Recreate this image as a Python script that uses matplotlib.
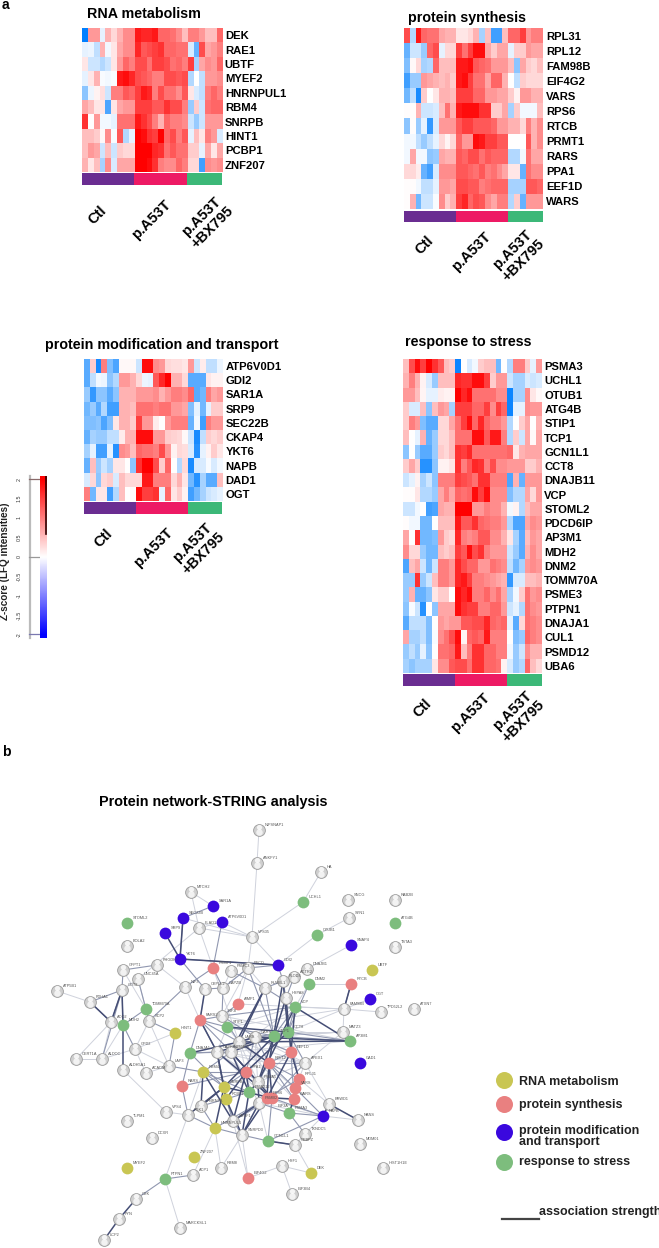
import numpy as np
import matplotlib
matplotlib.use('Agg')
import matplotlib.pyplot as plt
from matplotlib.colors import LinearSegmentedColormap
from matplotlib.collections import LineCollection

plt.rcParams['font.family'] = ['Liberation Sans', 'DejaVu Sans']

group_names = ['Ctl', 'p.A53T', 'p.A53T\n+BX795']
group_sizes = [9, 9, 6]
group_colors = ['#6a2d91', '#ed1a64', '#3cb878']

rna_genes = ['DEK', 'RAE1', 'UBTF', 'MYEF2', 'HNRNPUL1', 'RBM4', 'SNRPB', 'HINT1', 'PCBP1', 'ZNF207']
rna_z = [
    [-2, .8, .8, -.2, .6, .3, .6, .9, .9,  1.8, 1.7, 1.7, 1.8, 1.2, 1.2, 1.1, .9, .5,  1.0, 1.0, .8, .5, .5, 1.2],
    [-.2, -.15, -.5, .6, -.1, .2, .7, .9, .9,  1.7, 1.3, 1.4, 1.5, 1.6, 1.2, 1.2, 1.1, 1.1,  -.3, -1.2, 1.4, .7, .8, 1.0],
    [.2, -.4, -.4, -.6, -.4, .2, .8, 1.2, 1.0,  1.4, 1.4, 1.1, 1.5, 1.5, 1.4, 1.1, 1.2, 1.0,  1.5, -.7, .7, .9, .8, 1.2],
    [-.2, .2, .6, -.05, -.1, -.05, 1.8, 1.9, 1.7,  1.4, 1.3, 1.2, 1.0, 1.0, 1.4, 1.4, 1.3, 1.4,  -.6, 0, -.5, .8, .8, .9],
    [-.9, -.15, .1, .25, -.4, 1.0, 1.0, 1.3, 1.2,  1.5, 1.8, 1.7, 1.0, 1.4, 1.1, 1.1, .9, 1.3,  .2, -.3, -.5, 1.0, 1.2, 1.0],
    [.7, .5, .2, .2, -1.4, .2, .7, .8, .8,  1.5, 1.5, 1.5, 1.3, 1.3, 1.6, 1.4, 1.4, 1.0,  -.8, .4, -.4, 1.1, 1.2, 1.2],
    [1.6, 0, .8, -.1, -.1, -.2, 1.1, 1.1, 1.1,  1.8, 1.6, 1.4, 1.0, .6, 1.2, 1.0, 1.0, .9,  -.4, -.8, -.4, .8, .8, .8],
    [.5, .5, .4, .05, .9, -.05, 1.3, -.6, -.2,  2, 1.9, 1.6, 1.5, 2, 1.2, 1.4, 1.0, 1.3,  -.2, .5, .2, 1.0, .8, -.3],
    [.5, .8, .7, -.4, .5, -.4, .4, .3, .3,  2, 2, 2, 1.7, 1.6, 1.1, 1.3, 1.1, 1.1,  .4, .4, -.2, .7, .2, .7],
    [.6, .2, .5, -.7, .9, -.3, .7, .7, .7,  2, 2, 1.9, 1.6, 1.0, .9, .9, 1.2, 1.0,  .3, .3, -1.5, .9, .8, .9],
]

synthesis_genes = ['RPL31', 'RPL12', 'FAM98B', 'EIF4G2', 'VARS', 'RPS6', 'RTCB', 'PRMT1', 'RARS', 'PPA1', 'EEF1D', 'WARS']
synthesis_z = [
    [1.4, -.6, 1.8, 1.2, 1.1, 1.1, .7, .6, .6,  .2, .2, .3, .6, -.7, .5, -1.5, -1.5, .5,  1.2, 1.2, 1.5, .8, 1.0, 1.0],
    [-1.2, -.4, -.4, -.8, 1.2, 1.4, -.2, .3, .3,  1.5, 1.1, 1.5, 1.9, 1.9, .7, .4, .7, .7,  -.2, .4, .4, .8, .7, .7],
    [-1, .05, .3, -.7, -.6, 1.2, .5, .5, .5,  1.8, 1.8, 1.9, 1.3, 1.2, 1.1, .8, .8, .8,  .5, -.9, .7, .4, .3, .5],
    [-1.5, -.8, -.8, .8, .7, .6, .5, .6, .4,  1.8, 1.9, 1.5, 1.1, 1.1, .7, 1.2, 1.2, .6,  0, -.5, .4, .3, .3, .3],
    [-1.1, -.5, -1.8, .4, 0, .2, .6, .6, .5,  1.5, 1.5, 1.5, 1.2, 1.2, .8, .8, .7, .7,  .4, .1, .8, .8, .6, .6],
    [.02, .02, .6, -.4, -.4, -.3, .5, 1.1, .6,  1.8, 1.9, 1.9, 1.9, 1.6, 1.6, .4, .4, .7,  -.7, .4, -.1, -.1, -.1, .5],
    [-.9, .02, -.8, -.2, -1.6, -.3, .8, .8, .8,  1.3, 1.5, 1.5, 1.3, 1.3, 1.3, 1.2, .8, .8,  .6, .6, .3, 1.0, .6, .9],
    [-.1, -.1, -.5, -.8, -.5, -.2, .3, .08, .3,  1.2, .8, .8, 1.9, 1.8, 1.5, 1.5, 1.3, 1.3,  0, 0, 0, 1.3, .6, .9],
    [-.1, .7, -.1, -.1, -.9, -.8, .7, .6, .6,  1.3, 1.2, 1.4, 1.4, 1.1, 1.3, 1.2, 1.2, 1.2,  -.6, -.6, -.1, 1.1, .7, .7],
    [.3, .3, .15, -1.2, -1.5, -.3, .9, .9, .9,  1.3, 1.3, 1.2, 1.1, 1.3, 1.0, 1.1, .9, .7,  .2, .2, -1.2, 1.1, .9, .9],
    [.02, .02, -.1, -.5, -.5, -.2, .8, .8, .7,  1.4, 1.4, 1.3, 1.3, 1.0, 1.1, 1.2, 1.2, 1.2,  -.7, -.7, -.7, 1.3, 1.3, 1.2],
    [.02, .6, -1.1, -.4, -.4, -.05, .9, .4, .6,  1.5, 1.7, 1.2, 1.4, 1.3, .9, .7, 1.0, 1.0,  -.6, .4, -1.2, .8, .8, .8],
]

modification_genes = ['ATP6V0D1', 'GDI2', 'SAR1A', 'SRP9', 'SEC22B', 'CKAP4', 'YKT6', 'NAPB', 'DAD1', 'OGT']
modification_z = [
    [-1.3, .4, -1.8, 1.0, -1.0, -1.4, .05, .05, .05,  -.4, 1.9, 1.9, .9, .8, .3, .25, .25, .2,  .8, -.4, .15, -.5, -.5, -.15],
    [-1.3, -.5, -.1, -.15, -.9, -.6, .8, .8, .6,  .3, -.15, -.2, 1.3, 1.7, 2, .6, .6, .3,  -1.3, -1.3, -1.3, .2, .1, .1],
    [-.8, -1.6, -.9, -.9, -1.3, -.9, .6, .6, .6,  .8, .8, .8, .9, .6, .8, 1.0, 1.0, .9,  1.2, -1.3, -1.1, 1.0, .7, .8],
    [-1.1, -.8, -1.3, -.6, -1.5, -1.5, .6, .6, .5,  1.1, 1.1, 1.1, 1.0, 1.1, 1.1, .8, .8, .7,  -1.0, -.2, -1.1, -.2, .4, .4],
    [-1, -1, -.9, -1.4, -1, .2, .6, .6, .4,  1.5, .8, .8, .15, 0, .8, 1.0, 1.0, 1.0,  -1.2, -.1, -1.5, 1.0, .8, .8],
    [-1.2, -.7, -.8, -.8, -.5, -.5, .15, .6, .6,  1.9, 1.9, 1.9, .8, .8, .4, .35, .3, .05,  -.4, -1.8, -.5, .4, .3, .4],
    [-.7, -.2, -1.5, -1.5, -.2, -1.7, .9, .8, .5,  1.2, 1.1, 1.1, 1.0, 1.4, .8, .1, .3, .25,  -.3, -1.7, -.2, .1, .4, .2],
    [-1.2, .5, -.8, -.4, -.7, .2, .2, 0, -.9,  1.6, 2, 2, 1.4, .4, 1.2, 0, -.6, .3,  -1.8, -.3, -.3, -.05, -.3, -.1],
    [-.3, .3, -.9, .3, .4, -.3, .5, .3, .3,  .3, 1.8, 1.8, 1, 1, 1, .3, .6, .2,  -1.1, -1.7, -.7, -1.3, -1.3, .5],
    [1.0, -1.1, .2, .2, -1.5, -.6, .5, 0, .02,  1.9, 1.5, 1.5, 1.6, -.2, 1.2, .2, .4, .1,  -1.5, -1.1, -.7, -.4, -.3, -.2],
]

stress_genes = ['PSMA3', 'UCHL1', 'OTUB1', 'ATG4B', 'STIP1', 'TCP1', 'GCN1L1', 'CCT8', 'DNAJB11', 'VCP', 'STOML2',
                'PDCD6IP', 'AP3M1', 'MDH2', 'DNM2', 'TOMM70A', 'PSME3', 'PTPN1', 'DNAJA1', 'CUL1', 'PSMD12', 'UBA6']
stress_z = [
    [.5, 1.4, 1.9, 1.5, 2, 1.6, 1.3, .5, .4,  -1.9, 0, -.3, -.1, .4, .5, .5, -1.1, 0,  -.6, 1, 1, .4, -.2, .8],
    [.6, 1, .6, .1, -.3, -.8, .5, .5, .5,  1.7, 1.6, 1.6, 1.9, 1.9, 1.5, .4, .8, .8,  -.4, -.7, -.7, -.3, -.4, -.3],
    [.8, .8, .5, .08, -.2, -.2, .15, .1, .1,  2, 1.7, 1.9, 1.1, 1.1, 1.1, 1.1, .9, .9,  -1.9, -.7, -.7, .9, .2, .05],
    [.4, -.3, -.3, .5, -.9, .5, .8, .7, -.7,  1.5, 1.5, 1.5, 1.2, 1.2, 1.5, .9, 1.5, 1.2,  -1.9, -.2, -.2, .9, .8, .8],
    [.4, 1, .8, -1, -1.3, -1.3, .3, .3, .7,  1.1, 1.5, 1.9, 1.2, 1.7, 1.2, 1.0, 1.0, .8,  -.6, 0, .4, .7, 0, .6],
    [.5, 0, -.2, .6, -1.2, -.8, .3, .3, .5,  1.1, 1.1, 1.1, 1.9, 1.9, 1.3, 1.8, 1.8, 1.0,  -.6, .4, -.4, .7, .05, .7],
    [-.9, 0, -.8, -1.3, -1.3, -.8, .4, .3, .5,  1.6, 1.5, 1.7, 1.1, 1.1, 1.1, 1.1, 1.1, 1.1,  1.2, .2, .6, .7, .7, .7],
    [.4, .7, .4, -1.7, -1.7, -.9, .1, .1, .2,  1.6, 1.0, 1.3, 1.7, 1.6, 1.0, 1.4, .9, .9,  .8, .8, .8, .4, .4, .6],
    [-.4, -.2, .1, -.7, -.4, -.9, 1.0, 1.0, 1.0,  1.5, 1.4, 1.3, 1.1, 1.6, 1.6, 1.0, 1.0, 1.0,  -1.4, .6, -1.2, .8, .8, .8],
    [.02, .02, .2, -.6, -.6, -.8, .7, 1.0, .7,  1.2, 1.1, 1.2, 1.9, 1.5, 1.9, .9, .9, .9,  -1.0, -.6, -.6, .7, .3, .8],
    [-.4, -.4, -.1, 0, -1.5, -1.4, .7, .6, .6,  2, 2, 2, .8, .8, 1.0, .9, .9, .6,  -.1, .1, -.6, .5, .7, .7],
    [.02, -.1, -.1, -1.1, -1.1, 0, .5, .5, .5,  1.8, 1.3, 1.3, 1.6, 1.2, 1.1, 1.0, 1.0, .8,  -.6, -1.4, -1.4, .7, .9, .8],
    [.7, 0, 1.6, -1.1, -1.1, -1.0, .8, .4, .3,  1.7, 1.0, .9, 1.0, 1.3, 1.3, .9, .9, .6,  .2, -.7, -1.3, .5, .8, .7],
    [.9, .3, .3, -.8, -1.1, -1.1, .5, .4, .5,  1.5, 1.3, 1.9, 1.4, 1.6, 1.0, .8, .8, .8,  -.4, -.8, -1.3, .6, .9, .7],
    [-1.4, .5, .7, -.4, -1.1, -.4, 1.0, 1.0, .8,  1.7, 1.4, 1.2, 1.2, .8, .8, 1.1, 1.0, .9,  -.5, -1.1, -.7, .8, .9, .8],
    [-.8, -.8, 1.6, -.8, -.4, .5, 1.0, 1.0, .8,  1.7, 1.8, 1.5, 1.0, 1.0, .9, .8, .7, .6,  -1.6, -.3, -.3, .5, .5, .6],
    [-.8, .6, -1.2, -1.2, -.9, .2, .4, .4, 0,  1.9, 1.7, 1.9, 1.0, 1.0, 1.2, .9, 1.1, .7,  -.7, -.1, .4, 1.1, .8, .9],
    [-.9, -.05, -.4, -1.7, 0, -.9, .7, .7, .7,  1.9, 1.6, 1.5, 1.5, 1.0, 1.0, 1.2, 1.2, .8,  -.4, -.2, -.6, 1.1, .9, .8],
    [-1.3, -.5, -.5, -.5, -1.0, 0, .8, .7, .8,  .8, 1.3, 1.3, 1.4, 1.4, 1.7, 1.2, 1.1, 1.2,  -.2, -1.3, .3, 1.1, 1.0, .9],
    [.7, -.7, -.7, -.5, -1.0, -.05, .9, 1.1, 1.4,  1.9, .1, 1.2, 1.3, 1.2, 1.8, 1.0, 1.0, 1.0,  0, -1.0, -.8, 1.2, 1.0, .9],
    [-.8, -.5, -.8, -.2, -.9, 0, 1.1, 1.1, 1.2,  1.8, .5, 1.0, 1.6, 1.6, 1.2, 1.2, 1.0, 1.0,  -.1, -.8, -.4, .9, .6, .6],
    [-.7, -.9, -.7, -.7, -.7, .2, .9, .9, 1.3,  1.4, 1.4, 1.1, 1.6, 1.6, 1.2, 1.2, 1.1, .1,  -.3, -.8, -.6, 1.2, .5, .3],
]

key_ticks = [2, 1.5, 1, 0.5, 0, -0.5, -1, -1.5, -2]

# network, pixel layout of the STRING export
node_x = [259, 257, 321, 348, 349, 395, 395, 191, 199, 127, 157, 123, 138, 57, 90, 122, 185, 205, 223, 231, 248, 252,
          307, 294, 283, 265, 286, 222, 344, 381, 414, 343, 111, 149, 135, 76, 102, 123, 146, 169, 217, 231, 255, 239,
          258, 259, 201, 188, 166, 127, 152, 233, 242, 221, 193, 136, 119, 180, 104, 305, 329, 358, 360, 383, 305,
          295, 282, 292,
          372, 127, 215, 194, 175, 203, 224, 226, 311,
          213, 238, 200, 351, 248, 182, 246, 269, 267, 291, 299, 295, 294, 272,
          213, 183, 222, 165, 180, 278, 351, 370, 360, 323,
          127, 303, 317, 395, 309, 295, 146, 123, 350, 288, 274, 227, 190, 249, 289, 268, 165]
node_y = [830, 863, 872, 900, 918, 900, 947, 892, 928, 946, 965, 970, 979, 991, 1002, 990, 987, 989, 988, 971, 968, 937,
          969, 977, 981, 988, 998, 1016, 1009, 1012, 1009, 1032, 1022, 1021, 1049, 1059, 1059, 1070, 1073, 1066, 1052, 1052, 1037, 1042,
          1082, 1103, 1106, 1115, 1112, 1121, 1138, 1121, 1135, 1168, 1175, 1199, 1219, 1228, 1240, 1063, 1104, 1120, 1144, 1168, 1134,
          1145, 1166, 1194,
          970, 1168, 1128, 1157, 1033, 1072, 1087, 1099, 1173,
          968, 1004, 1020, 984, 1178, 1086, 1072, 1063, 1098, 1052, 1079, 1088, 1099, 1098,
          906, 918, 922, 933, 959, 965, 945, 999, 1063, 1116,
          923, 902, 935, 923, 984, 1007, 1009, 1025, 1041, 1032, 1036, 1027, 1053, 1092, 1113, 1141, 1179]
node_names = ['NIPSNAP1', 'ANKFY1', 'HA', 'SNCG', 'SYN1', 'RAB2B', 'TSTA3', 'MTCH2', 'FLAD1', 'BOLA2', 'PHGDH', 'GFPT1', 'UNC45A', 'ATP5B1', 'PDHA1', 'GOT2', 'NIF3', 'CKPLL2', 'CAPZB', 'PSMC3', 'PSCD', 'VPS35',
              'DNAJB1', 'ACTR2', 'PLOD3', 'RUVBL1', 'HSPA8', 'EIF3I', 'FAM98B', 'TPD52L2', 'ATXN7', 'MATZ3', 'ACO2', 'SCP2', 'GPD2', 'CERT1A', 'ALDOC', 'ALDH5A1', 'ACADM', 'LAP3', 'CAPRIN', 'PSMC5', 'GARS', 'LARS',
              'PSMA5', 'PSMB2', 'HNRNPA', 'PGK1', 'VPS4', 'TLPM1', 'DCXR', 'SRSF1', 'SNRPD3', 'RBM8', 'ACP1', 'CSK', 'FYN', 'MARCKSL1', 'LCP2', 'APEX1', 'BRWD1', 'NANS', 'MDM01', 'HIST1H1E', 'TXNDC5',
              'CEBPZ', 'HSF1', 'EIF3B4',
              'UBTF', 'MYEF2', 'HNRNPUL1', 'ZNF207', 'HINT1', 'RBM4', 'SNRPB', 'PCBP1', 'DEK',
              'PRMT1', 'AIMP1', 'PARS2', 'RTCB', 'EIF4G2', 'RARS', 'PPA1', 'RPL12', 'RPS6', 'EEF1D', 'RPL31', 'VARS', 'WARS', 'EIF3A',
              'SAR1A', 'SEC22B', 'ATP6V0D1', 'SRP9', 'YKT6', 'GDI2', 'SNAP4', 'OGT', 'GAD1', 'NAPB',
              'STOML2', 'UCHL1', 'OTUB1', 'ATG4B', 'DNM2', 'VCP', 'TOMM70A', 'MDH2', 'AP3M1', 'CCT8', 'TCP1', 'STIP1', 'DNAJA1', 'PSMD12', 'PSMA3', 'GCN1L1', 'PTPN1']
# 0 grey, 1 RNA, 2 synthesis, 3 modification, 4 stress
node_kind = [0] * 68 + [1] * 9 + [2] * 14 + [3] * 10 + [4] * 17

edges_weak = [('NIPSNAP1', 'ANKFY1'), ('ANKFY1', 'VPS35'), ('HA', 'UCHL1'), ('UCHL1', 'VPS35'), ('SYN1', 'OTUB1'), ('OTUB1', 'GDI2'),
              ('SNAP4', 'DNAJB1'), ('DNM2', 'RTCB'), ('OGT', 'FAM98B'), ('FAM98B', 'TPD52L2'), ('MTCH2', 'SAR1A'), ('FLAD1', 'MTCH2'),
              ('FLAD1', 'VPS35'), ('SEC22B', 'VPS35'), ('ATP6V0D1', 'VPS35'), ('ATP6V0D1', 'FLAD1'), ('FLAD1', 'PRMT1'), ('ATP5B1', 'PDHA1'),
              ('GFPT1', 'GOT2'), ('UNC45A', 'GOT2'), ('PHGDH', 'NIF3'), ('FLAD1', 'UNC45A'), ('GFPT1', 'TOMM70A'), ('UNC45A', 'TOMM70A'),
              ('VPS35', 'PSCD'), ('VPS35', 'GDI2'), ('PSCD', 'CAPZB'), ('PSCD', 'RUVBL1'), ('FAM98B', 'VCP'), ('FAM98B', 'CCT8'), ('FAM98B', 'MATZ3'),
              ('MATZ3', 'TCP1'), ('MATZ3', 'APEX1'), ('MATZ3', 'CCT8'), ('DNM2', 'VCP'), ('APEX1', 'BRWD1'), ('VCP', 'STIP1'), ('BRWD1', 'NANS'),
              ('NAPB', 'NANS'), ('NAPB', 'TXNDC5'), ('TXNDC5', 'CEBPZ'), ('CEBPZ', 'DEK'), ('HSF1', 'DEK'), ('HSF1', 'EIF3B4'), ('HSF1', 'EIF4G2'),
              ('ALDH5A1', 'VPS4'), ('VPS4', 'PGK1'), ('PGK1', 'PTPN1'), ('PTPN1', 'MARCKSL1'), ('SNRPD3', 'RBM8'), ('HNRNPUL1', 'RBM8'),
              ('SNRPD3', 'EIF4G2'), ('HNRNPUL1', 'ACP1'), ('ACO2', 'ALDOC'), ('MDH2', 'ALDOC'), ('ACO2', 'CERT1A'), ('CERT1A', 'ALDOC'),
              ('ALDOC', 'GPD2'), ('GPD2', 'SCP2'), ('GPD2', 'LAP3'), ('GPD2', 'ACADM'), ('ACADM', 'LAP3'), ('LAP3', 'SCP2'), ('HINT1', 'GPD2'),
              ('CAPRIN', 'APEX1'), ('PSMC5', 'VCP'), ('GARS', 'MATZ3'), ('LARS', 'PRMT1'), ('EIF3I', 'PSCD'), ('AIMP1', 'PSCD'), ('CKPLL2', 'PARS2'),
              ('NIF3', 'PARS2'), ('PSMC3', 'CAPZB'), ('EEF1D', 'PSMA5'), ('APEX1', 'PSMA5'), ('PSMB2', 'GCN1L1'), ('SRSF1', 'EIF4G2'), ('RBM4', 'PGK1'),
              ('PSMC5', 'PSMA5'), ('GARS', 'EEF1D'), ('LARS', 'PPA1'), ('CAPRIN', 'PPA1'), ('RPS6', 'NAPB'), ('PSMB2', 'NAPB'), ('PSMD12', 'NAPB'),
              ('RPL31', 'APEX1'), ('EEF1D', 'CCT8'), ('TCP1', 'PSMC5'), ('STIP1', 'LARS'), ('STIP1', 'CAPRIN'),
              ('MATZ3', 'GARS'), ('AP3M1', 'PSMC5'), ('FAM98B', 'STIP1'), ('FAM98B', 'AIMP1'), ('AP3M1', 'EIF3I'), ('BRWD1', 'RPL31'), ('APEX1', 'LARS'),
              ('APEX1', 'GARS'), ('PSMA5', 'LARS'), ('PSMA5', 'CAPRIN'), ('PSMB2', 'PSMC5'), ('PSMB2', 'GARS'), ('RPS6', 'CAPRIN'), ('RPS6', 'GARS'),
              ('RPL12', 'CAPRIN'), ('VARS', 'LARS'), ('WARS', 'LARS')]
edges_mid = [('PHGDH', 'GFPT1'), ('SEC22B', 'SAR1A'), ('PDHA1', 'GOT2'), ('GFPT1', 'GOT2'), ('PDHA1', 'ACO2'), ('GOT2', 'ACO2'), ('GOT2', 'ALDOC'),
             ('GOT2', 'MDH2'), ('UNC45A', 'SCP2'), ('TOMM70A', 'SCP2'), ('NIF3', 'SCP2'), ('SCP2', 'HINT1'), ('ATP6V0D1', 'PRMT1'), ('YKT6', 'GDI2'),
             ('YKT6', 'CKPLL2'), ('SEC22B', 'YKT6'), ('NIF3', 'PRMT1'), ('PRMT1', 'CAPZB'), ('CKPLL2', 'CAPZB'), ('CAPZB', 'PSCD'), ('CAPZB', 'EIF3I'),
             ('PSMC3', 'RUVBL1'), ('PSCD', 'GDI2'), ('GDI2', 'PLOD3'), ('RUVBL1', 'PLOD3'), ('PLOD3', 'HSPA8'), ('ACTR2', 'HSPA8'), ('HSPA8', 'VCP'),
             ('VCP', 'CCT8'), ('VCP', 'TCP1'), ('VCP', 'EIF3I'), ('CCT8', 'TCP1'), ('CCT8', 'AP3M1'), ('TCP1', 'AP3M1'), ('TCP1', 'STIP1'), ('STIP1', 'EIF3I'),
             ('STIP1', 'PARS2'), ('PARS2', 'EIF3I'), ('AIMP1', 'EIF3I'), ('PARS2', 'CAPRIN'), ('PARS2', 'DNAJA1'), ('CAPRIN', 'PSMC5'), ('PSMC5', 'LARS'),
             ('LARS', 'GARS'), ('GARS', 'CCT8'), ('GARS', 'EEF1D'), ('GARS', 'PPA1'), ('DNAJA1', 'CAPRIN'), ('DNAJA1', 'RARS'), ('HINT1', 'LAP3'), ('LAP3', 'RBM4'),
             ('RBM4', 'PSMC5'), ('RBM4', 'SNRPB'), ('SNRPB', 'PCBP1'), ('PCBP1', 'HNRNPA'), ('HNRNPA', 'HNRNPUL1'), ('SNRPB', 'PPA1'), ('PCBP1', 'SRSF1'),
             ('PCBP1', 'PSMD12'), ('PSMD12', 'PSMA5'), ('PSMA5', 'RPL12'), ('PSMA5', 'RPS6'), ('RPS6', 'PSMB2'), ('PSMB2', 'PSMA3'), ('RPS6', 'RPL31'), ('RPL31', 'VARS'),
             ('VARS', 'WARS'), ('WARS', 'EIF3A'), ('EIF3A', 'SRSF1'), ('SRSF1', 'SNRPD3'), ('SNRPD3', 'HNRNPUL1'), ('SNRPD3', 'GCN1L1'), ('PSMA3', 'NAPB'),
             ('EIF3A', 'NAPB'), ('VARS', 'NAPB'), ('EEF1D', 'RPL12'), ('RPL12', 'RPL31'), ('EEF1D', 'WARS'), ('APEX1', 'EIF3A'), ('PGK1', 'HNRNPUL1'), ('RARS', 'PGK1'), ('RARS', 'PPA1'),
             ('GCN1L1', 'CEBPZ'), ('TXNDC5', 'PSMA3'), ('CSK', 'PTPN1'), ('ACP1', 'PTPN1'), ('RTCB', 'FAM98B'), ('TOMM70A', 'MDH2'), ('MDH2', 'GPD2'), ('HSPA8', 'CCT8'),
             ('DNM2', 'CCT8'), ('PSCD', 'TCP1'), ('RUVBL1', 'TCP1'), ('RUVBL1', 'VCP'), ('EIF3I', 'GARS'), ('EIF3I', 'LARS'), ('PARS2', 'LARS'), ('PARS2', 'PSMC5'),
             ('DNAJA1', 'PSMC5'), ('DNAJA1', 'SNRPB'), ('RBM4', 'PPA1'), ('RBM4', 'PSMD12'), ('RPL12', 'GARS'), ('RPL12', 'TCP1'), ('RPL31', 'CCT8'), ('VARS', 'RPL12'),
             ('WARS', 'RPL12'), ('SRSF1', 'PSMB2'), ('APEX1', 'RPL12'), ('APEX1', 'CCT8'), ('HNRNPUL1', 'PSMB2'), ('SRSF1', 'SNRPB'), ('GCN1L1', 'NAPB'), ('GCN1L1', 'EIF3A')]
edges_strong = [('SEC22B', 'YKT6'), ('SRP9', 'YKT6'), ('YKT6', 'GDI2'), ('CKPLL2', 'PARS2'), ('GOT2', 'MDH2'), ('PDHA1', 'ACO2'), ('ACO2', 'GOT2'), ('PLOD3', 'CCT8'),
                ('HSPA8', 'TCP1'), ('VCP', 'AP3M1'), ('TCP1', 'CAPRIN'), ('TCP1', 'PSMC5'), ('CCT8', 'STIP1'), ('PSMC5', 'PSMA5'), ('PSMA5', 'PSMB2'), ('PSMA5', 'PSMD12'),
                ('PSMD12', 'SNRPD3'), ('PSMB2', 'SNRPD3'), ('RPL12', 'EIF3A'), ('RPS6', 'SNRPD3'), ('RPS6', 'RPL12'), ('EEF1D', 'RPS6'), ('EEF1D', 'RPL31'), ('EIF3A', 'WARS'),
                ('RPS6', 'SRSF1'), ('HNRNPUL1', 'SNRPB'), ('PCBP1', 'SNRPD3'), ('HNRNPA', 'RBM4'), ('CAPRIN', 'SNRPB'), ('PSMC5', 'PSMD12'), ('PARS2', 'CAPRIN'), ('GARS', 'LARS'),
                ('LARS', 'DNAJA1'), ('CSK', 'FYN'), ('FYN', 'LCP2'), ('ALDH5A1', 'MDH2'), ('NAPB', 'BRWD1'), ('BRWD1', 'NANS'), ('RTCB', 'FAM98B'), ('GCN1L1', 'CEBPZ'), ('PSMA3', 'WARS'),
                ('VCP', 'PSMA5'), ('VCP', 'EEF1D'), ('HSPA8', 'EEF1D'), ('PLOD3', 'RPL12'), ('RUVBL1', 'PSMC5'), ('RUVBL1', 'LARS'), ('CCT8', 'PPA1'), ('TCP1', 'PSMA5'),
                ('TCP1', 'SNRPB'), ('AP3M1', 'GARS'), ('AP3M1', 'LARS'), ('CAPRIN', 'PCBP1'), ('CAPRIN', 'EIF3A'), ('PSMC5', 'EIF3A'), ('LARS', 'RPL12'), ('PPA1', 'PCBP1'),
                ('PPA1', 'SRSF1'), ('PPA1', 'PSMD12'), ('HNRNPA', 'SNRPB'), ('RBM4', 'SRSF1'), ('SNRPB', 'EIF3A'), ('PGK1', 'SNRPB')]

heat_cmap = LinearSegmentedColormap.from_list('heat', ['#007fff', '#ffffff', '#ff0000'])
key_cmap = LinearSegmentedColormap.from_list('key', ['#0000ff', '#ffffff', '#ff0000'])
kind_colors = {1: '#c9c653', 2: '#e98080', 3: '#3a08de', 4: '#7dbd7d'}

W, H = 659, 1248
fig = plt.figure(figsize=(W / 100, H / 100), dpi=100, facecolor='white')
bg = fig.add_axes([0, 0, 1, 1])
bg.set_xlim(0, W)
bg.set_ylim(H, 0)
bg.axis('off')


def px_axes(left, top, right, bottom):
    return fig.add_axes([left / W, 1 - bottom / H, (right - left) / W, (bottom - top) / H])


def heatmap(values, genes, box, strip, title, title_xy, group_xy):
    left, top, right, bottom = box
    ax = px_axes(left, top, right, bottom)
    ax.imshow(np.array(values), cmap=heat_cmap, vmin=-2, vmax=2, aspect='auto', interpolation='nearest')
    ax.yaxis.tick_right()
    ax.set_yticks(range(len(genes)), genes, fontsize=8.1, fontweight='bold')
    ax.tick_params(axis='y', length=0, pad=2)
    ax.set_xticks([])
    for s in ax.spines.values():
        s.set_visible(False)

    sx = px_axes(left, strip[0], right, strip[1])
    pos = 0
    for size, col in zip(group_sizes, group_colors):
        sx.barh(0, size, left=pos, height=1, color=col)
        pos += size
    sx.set_xlim(0, sum(group_sizes))
    sx.set_ylim(-.5, .5)
    sx.axis('off')

    bg.text(title_xy[0], title_xy[1], title, fontsize=10.3, fontweight='bold', va='center')
    for name, (gx, gy) in zip(group_names, group_xy):
        bg.text(gx, gy, name, fontsize=10.5, fontweight='bold', rotation=45, ha='center', va='center',
                rotation_mode='anchor', linespacing=1.15, multialignment='center')


heatmap(rna_z, rna_genes, (81.5, 28, 222, 172), (173, 185), 'RNA metabolism', (87, 14),
        [(97, 215), (151, 220), (207, 222)])
heatmap(synthesis_z, synthesis_genes, (404, 28, 543, 209), (211, 222), 'protein synthesis', (408, 18),
        [(424, 245), (471, 252), (518, 255)])
heatmap(modification_z, modification_genes, (83.5, 359, 222.5, 501), (502, 514), 'protein modification and transport', (45, 345),
        [(103, 538), (153, 548), (198, 548)])
heatmap(stress_z, stress_genes, (403, 359, 541.5, 673), (674, 686), 'response to stress', (405, 342),
        [(422, 708), (470, 713), (518, 716)])

bg.text(2, 5, 'a', fontsize=10, fontweight='bold', va='center')
bg.text(2, 752, 'b', fontsize=10, fontweight='bold', va='center')

# colour key
key = px_axes(40, 476, 47, 638)
gradient = np.linspace(2.08, -2.08, 256).reshape(-1, 1)
key.imshow(gradient, cmap=key_cmap, vmin=-2, vmax=2, aspect='auto', extent=[0, 1, -2.08, 2.08])
key.plot([.85, .85], [.6, 2.08], color='#300000', lw=1.2)
key.set_xlim(0, 1)
key.set_ylim(-2.08, 2.08)
key.axis('off')
bg.plot([30, 30], [476, 638], color='#bbbbbb', lw=1.6)
for v in key_ticks:
    y = 556.7 - v * 38.8
    if v in (2, 0, -2):
        bg.plot([29, 40], [y, y], color={2: '#8a6a6a', 0: '#999999', -2: '#7a78b0'}[v], lw=.9)
    bg.text(19, y, str(v), fontsize=3.8, rotation=90, ha='center', va='center', color='#333333')
bg.text(5, 561, 'Z-score (LFQ intensities)', fontsize=7.2, fontweight='bold', rotation=90, ha='center', va='center', color='#222222')

# network
bg.text(99, 802, 'Protein network-STRING analysis', fontsize=10.4, fontweight='bold', va='center')
where = {n: (x, y) for n, x, y in zip(node_names, node_x, node_y)}
for edges, col, lw in [(edges_weak, '#cfd2dc', .7), (edges_mid, '#9097b0', .8), (edges_strong, '#454e75', 1.1)]:
    segs = [(where[a], where[b]) for a, b in edges]
    bg.add_collection(LineCollection(segs, colors=col, linewidths=lw, zorder=2))

nx, ny = np.array(node_x), np.array(node_y)
kinds = np.array(node_kind)
grey = kinds == 0
bg.scatter(nx[grey], ny[grey], s=72, c='#cfcfcf', edgecolors='#9c9c9c', linewidths=.6, zorder=3)
bg.scatter(nx[grey], ny[grey] + 2.2, s=22, c='#f2f2f2', linewidths=0, zorder=4)
bg.scatter(nx[grey], ny[grey] - 2.8, s=14, c='#ffffff', linewidths=0, alpha=.8, zorder=4)
for k, col in kind_colors.items():
    m = kinds == k
    bg.scatter(nx[m], ny[m], s=72, c=col, linewidths=0, zorder=3)
label_shift = {'EIF3A': (6, 8)}
for n, x, y in zip(node_names, node_x, node_y):
    dx, dy = label_shift.get(n, (6, -5))
    bg.text(x + dx, y + dy, n, fontsize=2.8, color='#555555', va='center', zorder=5)

# legend for the network
legend_y = [1080, 1104, 1132, 1162]
legend_text = ['RNA metabolism', 'protein synthesis', 'protein modification\nand transport', 'response to stress']
legend_text_y = [1082, 1105, 1136.5, 1162]
for k, ly, name, ty in zip([1, 2, 3, 4], legend_y, legend_text, legend_text_y):
    bg.scatter([504], [ly], s=150, c=kind_colors[k], linewidths=0, zorder=3)
    bg.text(519, ty, name, fontsize=9, fontweight='bold', va='center', linespacing=.85, color='#222222')
bg.plot([502, 539], [1219, 1219], color='#444444', lw=1.6)
bg.text(539, 1212, 'association strength', fontsize=9, fontweight='bold', va='center', color='#222222')

fig.savefig('out.png', dpi=100)
